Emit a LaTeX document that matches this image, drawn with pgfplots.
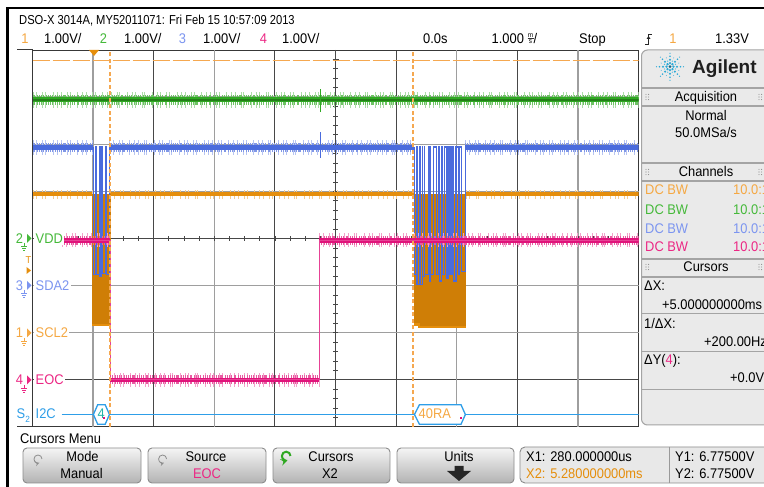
\documentclass[border=0pt]{standalone}
\usepackage{pgfplots}
\pgfplotsset{compat=1.18}
\usepackage{pgfplotstable}
\usepackage{fontspec}
\setmainfont{Liberation Sans}
\newfontfamily\scp[FakeStretch=0.92]{Liberation Sans}
\newfontfamily\scph[FakeStretch=0.86]{Liberation Sans}
\newcommand\fs{\fontsize{14}{16}\selectfont}

\definecolor{chone}{HTML}{E58E0C}
\definecolor{chonefill}{HTML}{CF7E06}
\definecolor{chonetxt}{HTML}{F5A843}
\definecolor{chtwo}{HTML}{2FA822}
\definecolor{chtwotxt}{HTML}{45B93A}
\definecolor{chthree}{HTML}{4A6BDD}
\definecolor{chthreetxt}{HTML}{7C95F0}
\definecolor{chfour}{HTML}{E0137A}
\definecolor{chfourtxt}{HTML}{EC2784}
\definecolor{busc}{HTML}{2E9EE8}
\definecolor{cursc}{HTML}{F5A850}
\definecolor{panel}{HTML}{EAEAEA}
\definecolor{panelline}{HTML}{A4A4A4}
\definecolor{logoc}{HTML}{2BA9D6}
\definecolor{tealtxt}{HTML}{22B3A8}

\tikzset{
  fuzzA/.style={line width=#1, dash pattern=on 0.5pt off 3.2pt on 0.8pt off 5.3pt on 0.5pt off 2.1pt on 1pt off 6.7pt on 0.6pt off 4.1pt},
  fuzzB/.style={line width=#1, dash pattern=on 0.7pt off 1.2pt on 0.5pt off 2.1pt on 1.2pt off 0.8pt on 0.6pt off 1.7pt},
  lab/.style={font=\scp\fs, inner xsep=1.5pt, inner ysep=1.5pt, fill=white, anchor=base west},
  txt/.style={font=\scp\fs, inner sep=0pt, anchor=base west},
  ctxt/.style={font=\scp\fs, inner sep=0pt, anchor=base},
}

% time in ms, level in volts; each channel drawn above its ground mark
% ch2 VDD (ground at division 4)
\pgfplotstableread{
t v
-1 2.94
9 2.94
}\vdd

% ch3 SDA2 (ground at division 3)
\pgfplotstableread{
t v
-1 2.94
0.0 2.94
nan nan
0.265 2.94
5.302 2.94
nan nan
6.139 2.94
9 2.94
}\sdaflat

\pgfplotstableread{
t v
0.000 2.94
0.000 0.23
0.040 0.23
0.040 2.94
0.047 2.94
0.047 0.23
0.100 0.23
0.100 2.94
0.106 2.94
0.106 0.20
0.130 0.20
0.130 2.94
0.155 2.94
0.155 0.25
0.200 0.25
0.200 2.94
0.222 2.94
0.222 0.23
0.265 0.23
0.265 2.94
nan nan
5.302 2.94
5.302 0.23
5.340 0.23
5.340 2.94
5.346 2.94
5.346 0.02
5.389 0.02
5.389 2.94
5.395 2.94
5.395 0.02
5.429 0.02
5.429 2.94
5.435 2.94
5.435 0.20
5.467 0.20
5.467 2.94
5.473 2.94
5.473 0.23
5.538 0.23
5.538 2.94
5.545 2.94
5.545 0.10
5.561 0.10
5.561 2.94
5.567 2.94
5.567 0.23
5.620 0.23
5.620 2.94
5.660 2.94
5.660 0.23
5.693 0.23
5.693 2.94
5.714 2.94
5.714 0.10
5.747 0.10
5.747 2.94
5.769 2.94
5.769 0.23
5.802 0.23
5.802 2.94
5.825 2.94
5.825 0.15
5.858 0.15
5.858 2.94
5.891 2.94
5.891 0.23
5.924 0.23
5.924 2.94
5.946 2.94
5.946 0.10
5.990 0.10
5.990 2.94
6.028 2.94
6.028 0.23
6.050 0.23
6.050 2.94
6.083 2.94
6.083 0.30
6.139 0.30
6.139 2.94
}\sdaburst

% ch1 SCL2 (ground at division 2)
\pgfplotstableread{
t v
-1 2.94
-0.01 2.94
nan nan
0.285 2.94
5.30 2.94
nan nan
6.15 2.94
9 2.94
}\sclflat

\pgfplotstableread{
t v
-0.01 0.16
-0.01 2.94
0.285 2.94
0.285 0.16
-0.01 0.16
}\sclburstA

\pgfplotstableread{
t v
5.30 0.18
5.30 2.94
6.15 2.94
6.15 0.12
5.38 0.12
5.38 0.18
5.30 0.18
}\sclburstB

\pgfplotstableread{
t v
-0.01 0.16
0.285 0.16
nan nan
5.30 0.18
5.38 0.18
5.38 0.12
6.15 0.12
}\sclbottom

% ch4 EOC (ground at division 1)
\pgfplotstableread{
t v
-0.51 2.96
0.285 2.96
0.285 0.0
3.73 0.0
3.73 2.96
9 2.96
}\eoc

\pgfplotstableread{
t v
-0.51 2.96
0.285 2.96
nan nan
0.285 0.0
3.73 0.0
nan nan
3.73 2.96
9 2.96
}\eocflat

\newcommand\gnd[3]{\draw[#1, line width=0.8pt] (#2,{487-#3}) -- ++(0,-3)
  ({#2-3},{484-#3}) -- ++(6,0) ({#2-2},{482-#3}) -- ++(4,0) ({#2-1},{480-#3}) -- ++(2,0);}
\newcommand\arr[2]{\fill[#1] (27,{491.5-#2}) -- (27,{482.5-#2}) -- (31.5,{487-#2}) -- cycle;}

\begin{document}
\begin{tikzpicture}
\useasboundingbox (0pt,0pt) rectangle (764pt,487pt);
\fill[white] (0pt,0pt) rectangle (764pt,487pt);

\begin{axis}[
  at={(32.5pt,60pt)}, anchor=south west,
  scale only axis, width=606pt, height=377pt,
  xmin=-1, xmax=9, ymin=0, ymax=8,
  xtick={1,3,4,5,7}, ytick={1,4},
  extra x ticks={0,2,6,8}, extra y ticks={2,3,5,6,7},
  xticklabels={}, yticklabels={},
  extra x tick labels={}, extra y tick labels={},
  major tick length=0pt,
  grid=major,
  major grid style={draw=black!72, line width=0.9pt},
  extra tick style={grid=major, major grid style={draw=black!38, line width=1.5pt}},
  axis line style={draw=black!78, line width=1pt},
  unbounded coords=jump,
]
% minor ticks on the centre lines
\pgfplotsinvokeforeach{1,...,39}{\draw[black!72, line width=0.8pt] (axis cs:{-1+0.25*#1},3.957) -- (axis cs:{-1+0.25*#1},4.043);}
\pgfplotsinvokeforeach{1,...,39}{\draw[black!72, line width=0.8pt] (axis cs:3.96,{0.2*#1}) -- (axis cs:4.04,{0.2*#1});}

% channel 1 SCL2
\addplot[chone!45!white, fuzzA=9pt] table[x=t, y expr=\thisrow{v}+2] {\sclflat};
\addplot[chone, line width=4pt] table[x=t, y expr=\thisrow{v}+2] {\sclflat};
\addplot[chonefill, fill=chonefill, line width=0.8pt] table[x=t, y expr=\thisrow{v}+2] {\sclburstA};
\addplot[chonefill, fill=chonefill, line width=0.8pt] table[x=t, y expr=\thisrow{v}+2] {\sclburstB};
\addplot[chone, line width=2.5pt] table[x=t, y expr=\thisrow{v}+2] {\sclbottom};

% channel 3 SDA2
\addplot[chthree!40!white, fuzzA=15pt] table[x=t, y expr=\thisrow{v}+3] {\sdaflat};
\addplot[chthree!70!white, fuzzB=9pt] table[x=t, y expr=\thisrow{v}+3] {\sdaflat};
\addplot[chthree, line width=5pt] table[x=t, y expr=\thisrow{v}+3] {\sdaflat};
\addplot[chthree, line width=1.2pt] table[x=t, y expr=\thisrow{v}+3] {\sdaburst};
\addplot[chthree, line width=0.8pt] table[x=t, y expr=\thisrow{v}+3, row sep=\\] {t v\\ 3.756 2.71\\ 3.756 3.26\\};

% channel 4 EOC
\addplot[chfour!40!white, fuzzA=14pt] table[x=t, y expr=\thisrow{v}+1] {\eocflat};
\addplot[chfour!70!white, fuzzB=9pt] table[x=t, y expr=\thisrow{v}+1] {\eocflat};
\addplot[chfour, line width=4.5pt] table[x=t, y expr=\thisrow{v}+1] {\eocflat};
\addplot[chfour!80!white, line width=1pt] table[x=t, y expr=\thisrow{v}+1] {\eoc};

% channel 2 VDD
\addplot[chtwo!40!white, fuzzA=16pt] table[x=t, y expr=\thisrow{v}+4] {\vdd};
\addplot[chtwo!70!white, fuzzB=10pt] table[x=t, y expr=\thisrow{v}+4] {\vdd};
\addplot[chtwo, line width=5pt] table[x=t, y expr=\thisrow{v}+4] {\vdd};
\addplot[chtwo!75!black, line width=1.5pt] table[x=t, y expr=\thisrow{v}+4] {\vdd};
\addplot[chtwo, line width=0.8pt] table[x=t, y expr=\thisrow{v}+4, row sep=\\] {t v\\ 3.756 2.68\\ 3.756 3.18\\};

% serial decode bus
\addplot[busc, line width=1.2pt] coordinates {(-0.52,0.265) (9,0.265)};
\addplot[busc, line width=1.3pt, fill=white] coordinates {(0.005,0.265) (0.075,0.47) (0.20,0.47) (0.27,0.265) (0.20,0.06) (0.075,0.06) (0.005,0.265)};
\addplot[busc, line width=1.3pt, fill=white] coordinates {(5.303,0.265) (5.384,0.47) (6.072,0.47) (6.143,0.265) (6.072,0.06) (5.384,0.06) (5.303,0.265)};
\node[font=\scp\fs, text=tealtxt, inner sep=0pt, anchor=base] at (axis cs:0.135,0.17) {4};
\node[font=\scp\fs, text=chonetxt, inner sep=0pt, anchor=base west] at (axis cs:5.37,0.17) {40RA};
\fill[chfour] (axis cs:0.165,0.17) rectangle (axis cs:0.19,0.22);
\fill[chfour] (axis cs:6.06,0.17) rectangle (axis cs:6.09,0.22);

% cursors
\addplot[cursc, line width=1.2pt, dash pattern=on 4pt off 2.5pt] coordinates {(0.28,0) (0.28,8)};
\addplot[cursc, line width=1.2pt, dash pattern=on 4pt off 2.5pt] coordinates {(5.28,0) (5.28,8)};
\addplot[cursc, line width=1.2pt, dash pattern=on 17pt off 3pt] coordinates {(-1,7.775) (9,7.775)};
\end{axis}

\begin{scope}[x=1pt,y=1pt]
\clip (0,0) rectangle (764,487);
% frame pieces and black screenshot edge
\draw[black!78, line width=1pt] (17,437) -- (32.5,437) (17,60) -- (32.5,60);
\draw[black, line width=2.6pt] (7.5,0) -- (7.5,479) -- (764,479);
% trigger position and time reference markers
\fill[chone] (89,437) -- (99,437) -- (94,431) -- cycle;
\draw[black!70, line width=0.9pt] (335.5,437) -- (335.5,428) (332.5,428) -- (338.5,428);

% header
\node[font=\scph\fontsize{13}{15}\selectfont, inner sep=0pt, anchor=base west] at (19,462.8) {DSO-X 3014A, MY52011071: Fri Feb 15 10:57:09 2013};
\node[ctxt, text=chonetxt] at (25,443) {1};
\node[txt] at (44,443) {1.00V/};
\node[ctxt, text=chtwotxt] at (103.5,443) {2};
\node[txt] at (124,443) {1.00V/};
\node[ctxt, text=chthreetxt] at (182.5,443) {3};
\node[txt] at (203,443) {1.00V/};
\node[ctxt, text=chfourtxt] at (263.5,443) {4};
\node[txt] at (282,443) {1.00V/};
\node[txt] at (423,443) {0.0s};
\node[txt] at (491.5,443) {1.000};
\node[font=\scp\fontsize{7}{7}\selectfont, inner sep=0pt] at (530.5,451.5) {m};
\node[font=\scp\fontsize{7}{7}\selectfont, inner sep=0pt] at (530.5,445) {s};
\draw[black!80, line width=0.5pt] (527.5,448.3) -- (533.5,448.3);
\node[txt] at (533.5,443) {/};
\node[txt] at (579,443) {Stop};
\draw[black!85, line width=0.9pt] (645,443) -- (648.5,443) -- (648.5,453) -- (652,453);
\fill[black!85] (646.5,448) -- (650.5,448) -- (648.5,451) -- cycle;
\node[ctxt, text=chonetxt] at (673,443) {1};
\node[txt] at (715,443) {1.33V};

% channel labels at the left of the grid
\node[ctxt, text=chtwotxt] at (19.5,243.5) {2};
\gnd{chtwotxt}{24}{243}
\arr{chtwotxt}{238.5}
\node[lab, text=chtwotxt] at (34,243.5) {VDD};
\node[font=\scp\fontsize{10}{10}\selectfont, text=chone, inner sep=0pt, anchor=base] at (28.5,223.5) {T};
\fill[chone] (26.5,220) -- (26.5,213) -- (31,216.5) -- cycle;
\node[ctxt, text=chthreetxt] at (19.5,196.5) {3};
\gnd{chthreetxt}{24}{290}
\arr{chthreetxt}{285.5}
\node[lab, text=chthreetxt] at (34,196.5) {SDA2};
\node[ctxt, text=chonetxt] at (19.5,149) {1};
\gnd{chonetxt}{24}{338}
\arr{chonetxt}{333}
\node[lab, text=chonetxt] at (34,149) {SCL2};
\node[ctxt, text=chfourtxt] at (19.5,102) {4};
\gnd{chfourtxt}{24}{385}
\arr{chfourtxt}{380}
\node[lab, text=chfourtxt] at (34,102) {EOC};
\node[font=\scp\fs, text=busc, inner sep=0pt, anchor=base west] at (16.5,68) {S\raisebox{-3.5pt}{\fontsize{9}{9}\selectfont 2}};
\node[lab, text=busc] at (34,68) {I2C};

% side panel
\draw[panelline, fill=panel, rounded corners=6pt, line width=1pt] (641.5,437) rectangle (790,62);
\foreach \yy in {88,106,163,181,259,277} \draw[panelline, line width=1.6pt] (641.5,{487-\yy}) -- (764,{487-\yy});
\foreach \yy in {314,351.7,390} \draw[panelline, line width=1pt] (641.5,{487-\yy}) -- (764,{487-\yy});
\foreach \yy in {97,172,267} {
  \foreach \dx in {0,2.6} \foreach \dy in {-2.6,0,2.6} {
    \fill[black!45] ({646+\dx},{487-\yy+\dy}) circle (0.55pt);
    \fill[black!45] ({759+\dx},{487-\yy+\dy}) circle (0.55pt);}}
% logo
\foreach \a in {0,45,...,315} {
  \foreach \r/\s in {3.5/1.3,7/1.15,10.5/0.9,13.5/0.6} \fill[logoc] (670,420.3) ++(\a:\r) circle (\s pt);}
\foreach \a in {22.5,67.5,...,337.5} {
  \foreach \r/\s in {6/0.7,9.5/0.55} \fill[logoc!80] (670,420.3) ++(\a:\r) circle (\s pt);}
\fill[logoc!60!black] (670,420.3) circle (1.5pt);
\node[font=\bfseries\fontsize{19}{21}\selectfont, text=black!88, inner sep=0pt, anchor=base west] at (692,413.2) {Agilent};
\node[ctxt] at (706,385) {Acquisition};
\node[ctxt] at (706,366.5) {Normal};
\node[ctxt] at (706,349) {50.0MSa/s};
\node[ctxt] at (706,310) {Channels};
\node[txt, text=chonetxt] at (645,292) {DC BW};
\node[txt, text=chonetxt] at (733,292) {10.0:1};
\node[txt, text=chtwotxt] at (645,272) {DC BW};
\node[txt, text=chtwotxt] at (733,272) {10.0:1};
\node[txt, text=chthreetxt] at (645,253) {DC BW};
\node[txt, text=chthreetxt] at (733,253) {10.0:1};
\node[txt, text=chfourtxt] at (645,235) {DC BW};
\node[txt, text=chfourtxt] at (733,235) {10.0:1};
\node[ctxt] at (706,215) {Cursors};
\node[txt] at (644,196) {ΔX:};
\node[txt] at (662,177) {+5.000000000ms};
\node[txt] at (644,158) {1/ΔX:};
\node[txt] at (704,140) {+200.00Hz};
\node[txt] at (644,122) {ΔY(\textcolor{chfourtxt}{4}):};
\node[txt] at (730,104) {+0.0V};

% soft key menu
\node[txt] at (20,43.5) {Cursors Menu};
\foreach \xa/\xb in {23/141,148/266,273/390,397/514} {
  \shade[top color=white!96!black, bottom color=black!30, rounded corners=4pt] (\xa,39) rectangle (\xb,4);
  \draw[black!45, rounded corners=4pt, line width=0.9pt] (\xa,39) rectangle (\xb,4);}
\draw[black!45, ->, >=stealth, line width=0.8pt] (42,28) arc (0:290:4);
\draw[black!45, ->, >=stealth, line width=0.8pt] (166.6,28) arc (0:290:4);
\draw[chtwo, ->, >=stealth, line width=2pt] (290.5,31) arc (0:290:4.3);
\node[ctxt] at (82.5,25.5) {Mode};
\node[ctxt] at (81.5,8) {Manual};
\node[ctxt] at (206,25.5) {Source};
\node[ctxt, text=chfourtxt] at (207,8) {EOC};
\node[ctxt] at (331,25.5) {Cursors};
\node[ctxt] at (330,8) {X2};
\node[ctxt] at (459,25.5) {Units};
\fill[black!85] (454.5,21) rectangle (463.5,16) (447,16) -- (471,16) -- (459,6) -- cycle;
\draw[black!45, fill=black!9, rounded corners=5pt, line width=0.9pt] (520,40) rectangle (790,4);
\draw[black!40, line width=0.9pt] (669,40) -- (669,4);
\node[txt] at (526,25.5) {X1: 280.000000us};
\node[txt, text=chone] at (526,8) {X2: 5.280000000ms};
\node[txt] at (675,25.5) {Y1: 6.77500V};
\node[txt] at (675,8) {Y2: 6.77500V};
\end{scope}
\end{tikzpicture}
\end{document}
